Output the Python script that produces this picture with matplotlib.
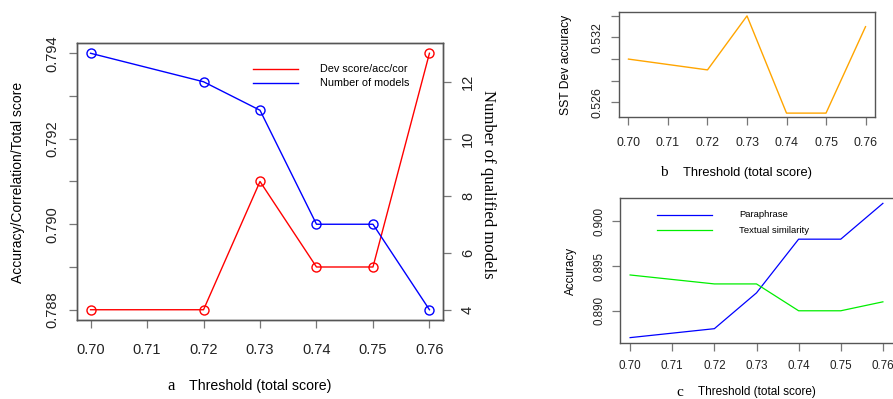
import matplotlib
matplotlib.use("Agg")
import matplotlib.pyplot as plt

# data
thresholds = [0.70, 0.72, 0.73, 0.74, 0.75, 0.76]
xticks = [0.70, 0.71, 0.72, 0.73, 0.74, 0.75, 0.76]
xticklabels = ["0.70", "0.71", "0.72", "0.73", "0.74", "0.75", "0.76"]

dev_score = [0.788, 0.788, 0.791, 0.789, 0.789, 0.794]
n_models = [13, 12, 11, 7, 7, 4]

sst_dev = [0.530, 0.529, 0.534, 0.525, 0.525, 0.533]

paraphrase = [0.887, 0.888, 0.892, 0.898, 0.898, 0.902]
textual_sim = [0.894, 0.893, 0.893, 0.890, 0.890, 0.891]

W, H = 893, 399
sans = "Liberation Sans"
serif = "Liberation Serif"
plt.rcParams["font.family"] = sans
frame_col = "#555555"


def box(l, t, r, b):
    return [l / W, 1 - b / H, (r - l) / W, (b - t) / H]


def px(x, y):
    return x / W, 1 - y / H


def r_style(ax, size, tlen, xpad, ypad):
    for s in ax.spines.values():
        s.set_color(frame_col)
        s.set_linewidth(1.0)
    ax.tick_params(colors="#222222", labelsize=size, length=tlen, width=0.9,
                   direction="out", color="#777777")
    ax.tick_params(axis="x", pad=xpad)
    ax.tick_params(axis="y", pad=ypad)
    for lab in ax.get_yticklabels():
        lab.set_rotation(90)
        lab.set_va("center")


def pad_lim(vals):
    lo, hi = min(vals), max(vals)
    d = (hi - lo) * 0.04
    return lo - d, hi + d


fig = plt.figure(figsize=(W / 100, H / 100), dpi=100)

# ---- panel a ----
ax = fig.add_axes(box(77, 43, 443, 320))
ax.plot(thresholds, dev_score, color="#ff0000", lw=1.0, marker="o",
        mfc="none", ms=6.5, mew=1.0)
ax.set_xlim(pad_lim(thresholds))
ax.set_ylim(pad_lim(dev_score))
ax.set_xticks(xticks)
ax.set_xticklabels(xticklabels)
ax.set_yticks([0.788, 0.789, 0.790, 0.791, 0.792, 0.793, 0.794])
ax.set_yticklabels(["0.788", "", "0.790", "", "0.792", "", "0.794"])
r_style(ax, 10.5, 6, 10.5, 7)

ax2 = ax.twinx()
ax2.plot(thresholds, n_models, color="#0000ff", lw=1.0, marker="o",
         mfc="none", ms=6.5, mew=1.0)
ax2.set_ylim(pad_lim(n_models))
ax2.set_yticks([4, 6, 8, 10, 12])
r_style(ax2, 10.5, 6, 10.5, 7)

ax.plot([0.481, 0.604], [0.906, 0.906], color="#ff0000", lw=1.0,
        transform=ax.transAxes)
ax.plot([0.481, 0.604], [0.856, 0.856], color="#0000ff", lw=1.0,
        transform=ax.transAxes)
ax.text(0.664, 0.906, "Dev score/acc/cor", fontsize=7.8, va="center",
        transform=ax.transAxes)
ax.text(0.664, 0.856, "Number of models", fontsize=7.8, va="center",
        transform=ax.transAxes)

fig.text(*px(18, 182), "Accuracy/Correlation/Total score", fontsize=10,
         rotation=90, ha="center", va="center")
fig.text(*px(488, 184), "Number of qualified models", fontsize=12,
         family=serif, rotation=270, ha="center", va="center")
fig.text(*px(171, 386), "a", family=serif, fontsize=12,
         ha="center", va="center")
fig.text(*px(189, 386), "Threshold (total score)", fontsize=10.2,
         ha="left", va="center")

# ---- panel b ----
bx = fig.add_axes(box(619, 12, 875, 117))
bx.plot(thresholds, sst_dev, color="#ffa500", lw=1.0)
bx.set_xlim(pad_lim(thresholds))
bx.set_ylim(pad_lim(sst_dev))
bx.set_xticks(xticks)
bx.set_xticklabels(xticklabels)
bx.set_yticks([0.526, 0.528, 0.530, 0.532, 0.534])
bx.set_yticklabels(["0.526", "", "", "0.532", ""])
r_style(bx, 8.9, 6, 8.5, 5.5)

fig.text(*px(566, 65), "SST Dev accuracy", fontsize=8.7, rotation=90,
         ha="center", va="center")
fig.text(*px(664, 173), "b", family=serif, fontsize=11,
         ha="center", va="center")
fig.text(*px(683, 173), "Threshold (total score)", fontsize=9.3,
         ha="left", va="center")

# ---- panel c ----
cx = fig.add_axes(box(620, 198, 893, 343))
cx.plot(thresholds, paraphrase, color="#0000ff", lw=0.9)
cx.plot(thresholds, textual_sim, color="#00ee00", lw=0.9)
cx.set_xlim(pad_lim(thresholds))
cx.set_ylim(pad_lim(paraphrase))
cx.set_xticks(xticks)
cx.set_xticklabels(xticklabels)
cx.set_yticks([0.890, 0.895, 0.900])
r_style(cx, 8.4, 6, 6, 4.5)
cx.spines["right"].set_visible(False)

cx.plot([0.1355, 0.337], [0.883, 0.883], color="#0000ff", lw=0.9,
        transform=cx.transAxes)
cx.plot([0.1355, 0.337], [0.779, 0.779], color="#00ee00", lw=0.9,
        transform=cx.transAxes)
cx.text(0.436, 0.883, "Paraphrase", fontsize=6.8, va="center",
        transform=cx.transAxes)
cx.text(0.436, 0.779, "Textual similarity", fontsize=6.8, va="center",
        transform=cx.transAxes)

fig.text(*px(571, 271), "Accuracy", fontsize=8.4, rotation=90,
         ha="center", va="center")
fig.text(*px(680, 392), "c", family=serif, fontsize=11,
         ha="center", va="center")
fig.text(*px(698, 392), "Threshold (total score)", fontsize=8.5,
         ha="left", va="center")

fig.savefig("out.png", dpi=100)
